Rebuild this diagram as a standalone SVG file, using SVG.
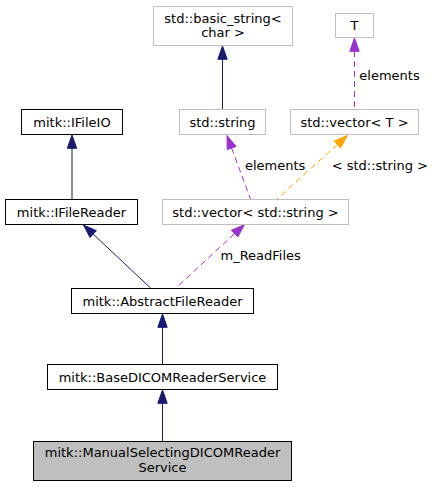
<svg xmlns="http://www.w3.org/2000/svg" width="432" height="487" viewBox="0 0 432 487">
<style>
text{font-family:"DejaVu Sans","Liberation Sans",sans-serif;font-size:13px;fill:#000}
.n text{text-anchor:middle}
.doc{fill:#fff;stroke:#000;stroke-width:1}
.ext{fill:#fff;stroke:#bfbfbf;stroke-width:1}
.cur{fill:#bfbfbf;stroke:#000;stroke-width:1}
.inh{stroke:#191970;fill:none;stroke-width:1}
.inhH{fill:#191970;stroke:#191970}
.use{stroke:#9a32cd;fill:none;stroke-dasharray:6,4}
.useH{fill:#9a32cd;stroke:#9a32cd}
.tpl{stroke:#ffa500;fill:none;stroke-dasharray:6,4}
.tplH{fill:#ffa500;stroke:#ffa500}
</style>
<rect width="432" height="487" fill="#fff"/>
<g id="connectors">
<line class="inh" x1="222.5" y1="59" x2="222.5" y2="109"/>
<polygon class="inhH" points="222.5,46 217.8,59.3 227.2,59.3"/>
<line class="inh" x1="72" y1="148" x2="72" y2="199"/>
<polygon class="inhH" points="72,135 67.3,148.3 76.7,148.3"/>
<line class="inh" x1="93.2" y1="234.1" x2="150.5" y2="288"/>
<polygon class="inhH" points="83.5,225 90.0,237.5 96.4,230.7"/>
<line class="inh" x1="162.5" y1="327" x2="162.5" y2="364"/>
<polygon class="inhH" points="162.5,314 157.8,327.3 167.2,327.3"/>
<line class="inh" x1="162.5" y1="403" x2="162.5" y2="441"/>
<polygon class="inhH" points="162.5,390 157.8,403.3 167.2,403.3"/>
<line class="use" x1="234.6" y1="233.6" x2="176" y2="288"/>
<polygon class="useH" points="244.3,224.8 237.8,237.0 231.4,230.2"/>
<text x="220.5" y="259.5">m_ReadFiles</text>
<line class="use" x1="231.6" y1="148" x2="250.5" y2="199"/>
<polygon class="useH" points="227,135.5 227.2,149.6 236.0,146.4"/>
<text x="245" y="169.5">elements</text>
<line class="tpl" x1="337.4" y1="144.4" x2="277" y2="199"/>
<polygon class="tplH" points="347.3,135.5 340.5,147.9 334.3,140.9"/>
<text x="331.7" y="170">&lt; std::string &gt;</text>
<line class="use" x1="354.5" y1="51" x2="354.5" y2="109"/>
<polygon class="useH" points="354.5,38 349.8,51.3 359.2,51.3"/>
<text x="359.3" y="80">elements</text>
</g>
<g id="node_basic_string" class="n"><rect class="ext" x="153.5" y="6.5" width="139" height="39"/><text x="223" y="22.5">std::basic_string&lt;</text><text x="223" y="37">char &gt;</text></g>
<g id="node_T" class="n"><rect class="ext" x="335.5" y="13.5" width="38" height="24"/><text x="354.5" y="30">T</text></g>
<g id="node_IFileIO" class="n"><rect class="doc" x="21.5" y="109.5" width="101" height="25"/><text x="72" y="126.5">mitk::IFileIO</text></g>
<g id="node_string" class="n"><rect class="ext" x="179.5" y="109.5" width="86" height="25"/><text x="222.5" y="126.5">std::string</text></g>
<g id="node_vectorT" class="n"><rect class="ext" x="290.5" y="109.5" width="128" height="25"/><text x="354.5" y="126.5">std::vector&lt; T &gt;</text></g>
<g id="node_IFileReader" class="n"><rect class="doc" x="5.5" y="199.5" width="132" height="25"/><text x="71.5" y="216.5">mitk::IFileReader</text></g>
<g id="node_vectorString" class="n"><rect class="ext" x="162.5" y="199.5" width="186" height="25"/><text x="255.5" y="216.5">std::vector&lt; std::string &gt;</text></g>
<g id="node_AbstractFileReader" class="n"><rect class="doc" x="71.5" y="288.5" width="182" height="25"/><text x="162.5" y="305.5">mitk::AbstractFileReader</text></g>
<g id="node_BaseDICOMReaderService" class="n"><rect class="doc" x="47.5" y="364.5" width="230" height="25"/><text x="162.5" y="381.5">mitk::BaseDICOMReaderService</text></g>
<g id="node_Manual" class="n"><rect class="cur" x="33.5" y="441.5" width="258" height="39"/><text x="162.5" y="457">mitk::ManualSelectingDICOMReader</text><text x="162.5" y="471.5">Service</text></g>
</svg>
